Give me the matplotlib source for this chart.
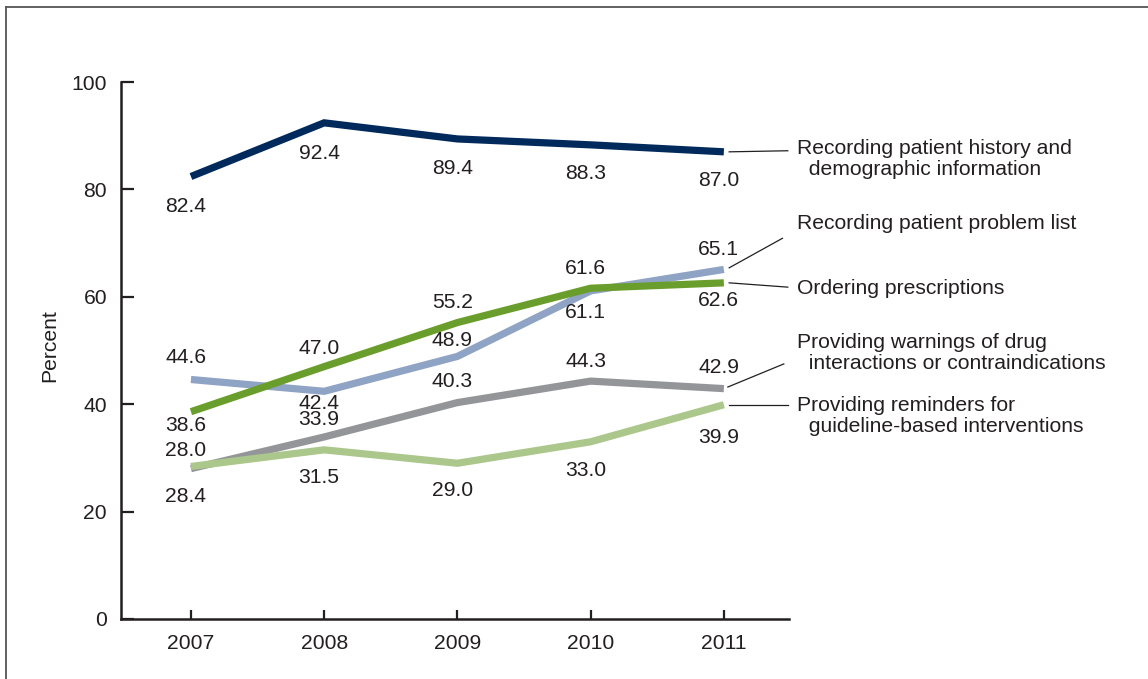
import numpy as np
import matplotlib
matplotlib.use("Agg")
import matplotlib.pyplot as plt
from matplotlib.lines import Line2D

plt.rcParams['font.family'] = ['Liberation Sans', 'DejaVu Sans']

years = [2007, 2008, 2009, 2010, 2011]
history = [82.4, 92.4, 89.4, 88.3, 87.0]
problem_list = [44.6, 42.4, 48.9, 61.1, 65.1]
prescriptions = [38.6, 47.0, 55.2, 61.6, 62.6]
warnings = [28.0, 33.9, 40.3, 44.3, 42.9]
reminders = [28.4, 31.5, 29.0, 33.0, 39.9]

names = ["Recording patient history and\n  demographic information",
         "Recording patient problem list",
         "Ordering prescriptions",
         "Providing warnings of drug\n  interactions or contraindications",
         "Providing reminders for\n  guideline-based interventions"]

# label offsets in pixels (negative = below the point)
off_history = [-30, -31, -30, -29, -29]
off_problem = [22, -12, 16, -22, 20]
off_presc = [-14, 18, 20, 20, -18]
off_warn = [18, 17, 21, 20, 21]
off_remind = [-30, -28, -27, -29, -33]

col_history = "#002a5c"
col_problem = "#8fa3c5"
col_presc = "#6a9e2c"
col_warn = "#939598"
col_remind = "#abc78b"
txt = "#231f20"
fs = 15.2

fig = plt.figure(figsize=(11.48, 6.79), dpi=100)
ax = fig.add_axes([0.1054, 0.0884, 0.582, 0.7908])

series = [
    (problem_list, col_problem, off_problem),
    (warnings, col_warn, off_warn),
    (reminders, col_remind, off_remind),
    (prescriptions, col_presc, off_presc),
    (history, col_history, off_history),
]
for vals, col, offs in series:
    ax.plot(years, vals, color=col, lw=5.2, solid_capstyle='butt', solid_joinstyle='miter')
    for x, v, o in zip(years, vals, offs):
        ax.annotate(f"{v:.1f}", (x, v), xytext=(-5, o), textcoords='offset pixels',
                    ha='center', va='center', fontsize=fs, color=txt)

ax.set_xlim(2006.475, 2011.49)
ax.set_ylim(0, 100)
ax.set_xticks(years)
ax.set_yticks([0, 20, 40, 60, 80, 100])
ax.spines['top'].set_visible(False)
ax.spines['right'].set_visible(False)
for s in ['left', 'bottom']:
    ax.spines[s].set_linewidth(1.8)
    ax.spines[s].set_color(txt)
ax.tick_params(axis='y', direction='in', length=9.5, width=1.6, colors=txt,
               labelsize=fs, pad=10)
ax.tick_params(axis='x', direction='in', length=6.5, width=1.6, colors=txt,
               labelsize=fs, pad=11)
ax.set_ylabel("Percent", fontsize=fs, color=txt)
ax.yaxis.set_label_coords(-0.092, 0.51)

# right-side labels with leader lines
label_y = [85.7, 73.7, 61.6, 49.6, 37.8]
lead_start = [(2011.04, 87.0), (2011.04, 65.4), (2011.04, 62.6), (2011.03, 43.2), (2011.04, 39.9)]
lead_end = [(2011.48, 87.2), (2011.44, 70.9), (2011.48, 61.8), (2011.45, 47.5), (2011.48, 39.9)]
for name, ly, p0, p1 in zip(names, label_y, lead_start, lead_end):
    ax.plot([p0[0], p1[0]], [p0[1], p1[1]], color=txt, lw=0.9, clip_on=False)
    ax.text(2011.55, ly, name, ha='left', va='center', fontsize=fs, color=txt,
            linespacing=1.12, clip_on=False)

# frame around the figure (top and left edges visible)
fig.add_artist(Line2D([6 / 1148, 1.0], [1 - 7 / 679, 1 - 7 / 679], color="#555555", lw=1.3))
fig.add_artist(Line2D([6 / 1148, 6 / 1148], [0, 1 - 7 / 679], color="#555555", lw=1.3))

fig.savefig("out.png", dpi=100)
